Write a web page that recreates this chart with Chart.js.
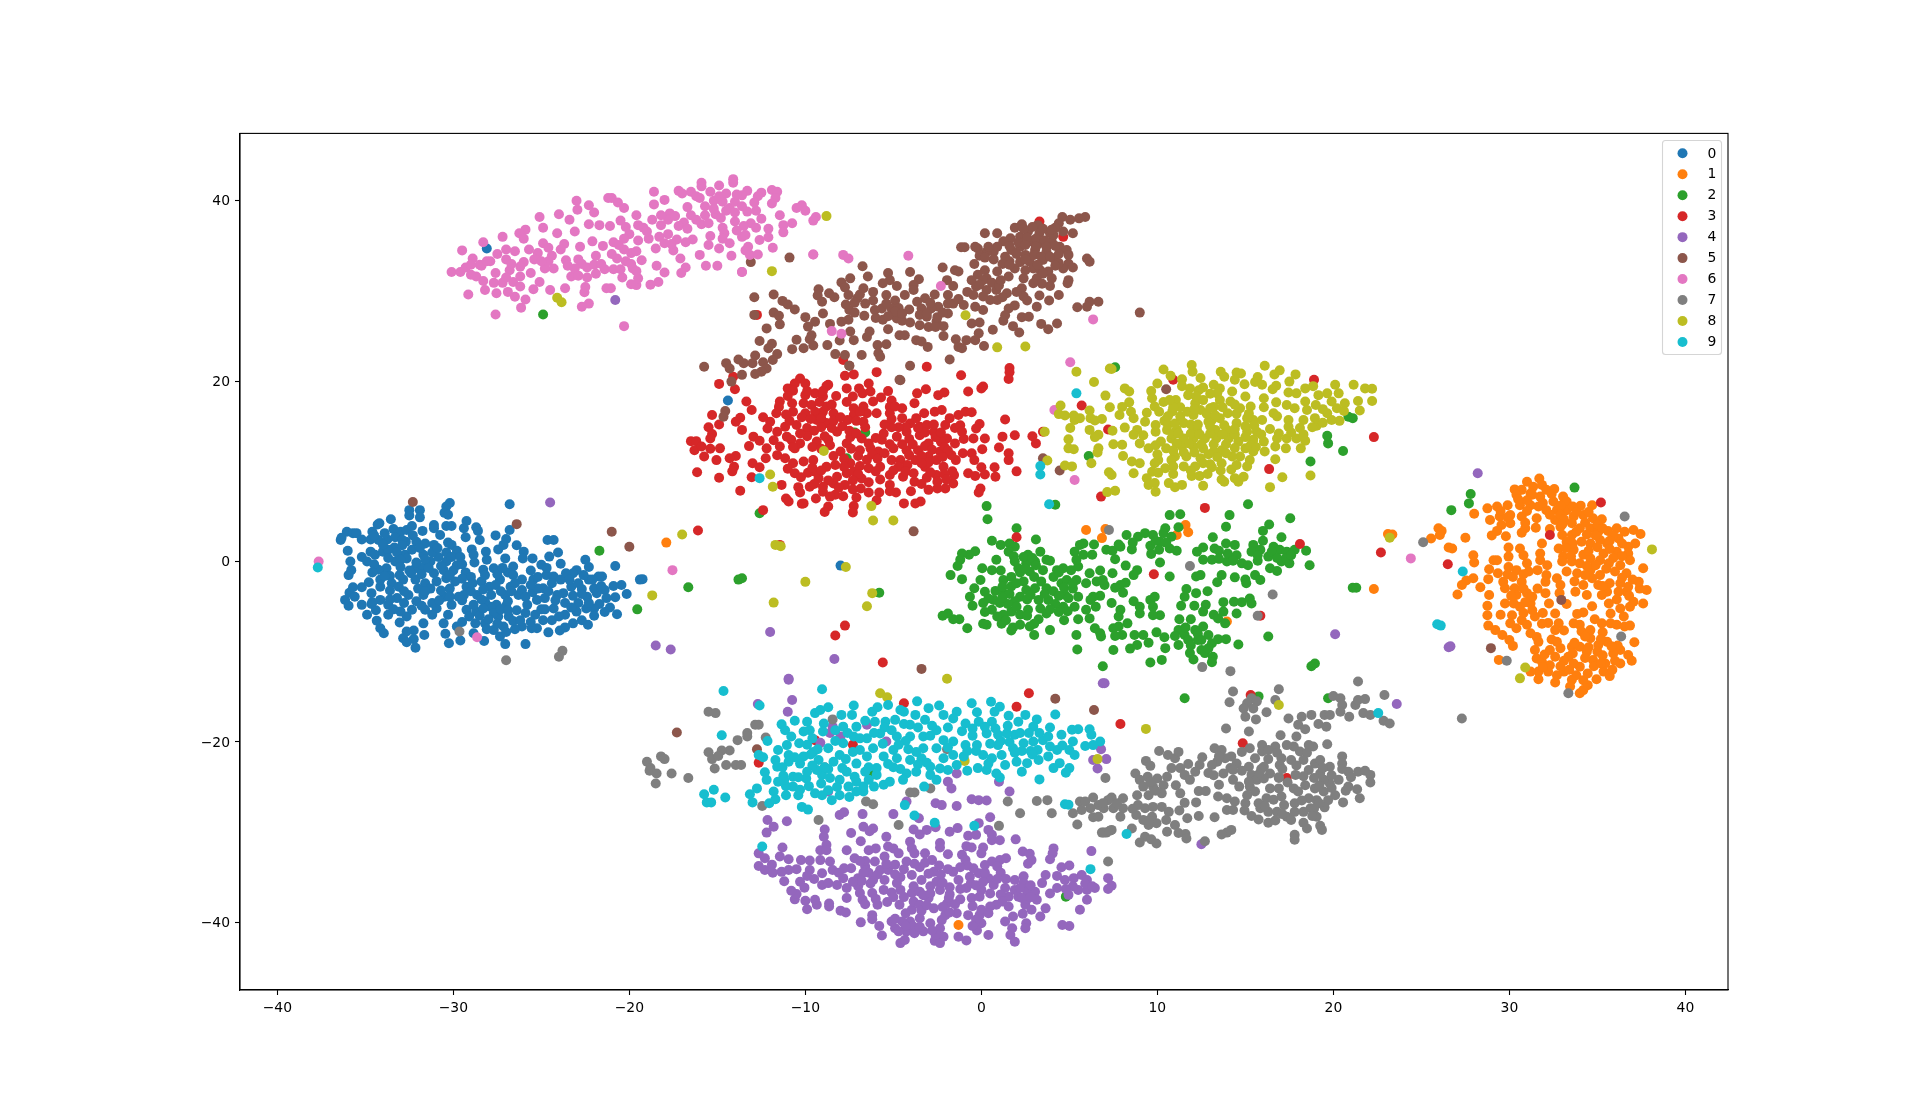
<!DOCTYPE html>
<html>
<head>
<meta charset="utf-8">
<title>t-SNE scatter</title>
<script src="https://cdn.jsdelivr.net/npm/chart.js@4/dist/chart.umd.min.js"></script>
<style>
  html, body { margin: 0; padding: 0; background: #fff; }
  canvas { display: block; }
</style>
</head>
<body>
<canvas id="tsneChart" width="1920" height="1112"></canvas>
<script>
const categories = ['0', '1', '2', '3', '4', '5', '6', '7', '8', '9'];
const colors = ['#1f77b4', '#ff7f0e', '#2ca02c', '#d62728', '#9467bd', '#8c564b', '#e377c2', '#7f7f7f', '#bcbd22', '#17becf'];
const xTicks = [-40, -30, -20, -10, 0, 10, 20, 30, 40];
const yTicks = [-40, -20, 0, 20, 40];

const series0 = [[-28.1,34.7],[-14.4,17.85],[-8,-0.45],[-30.2,6.5],[-30.4,6.1],[-32.5,5.7],[-31.9,5.7],[-31.9,4.9],[-32.5,5.1],[-30.5,5.4],[-30.3,5.2],[-26.8,6.35],[-33.55,4.7],[-34.2,4.25],[-34.3,4.1],[-31.1,4.05],[-31.1,3.7],[-30.4,3.95],[-30.1,3.95],[-29.25,4.5],[-29.4,3.7],[-28.7,3.8],[-28.6,3.4],[-29.3,2.7],[-28.5,2.4],[-27.6,2.9],[-26.8,3.5],[-27,2.5],[-36.05,3.3],[-35.7,3.15],[-35.5,3.15],[-36.4,2.4],[-36.35,2.65],[-35.2,2.45],[-34.6,3.3],[-34.7,2.45],[-34.25,2.4],[-33.75,2.45],[-33.9,3.15],[-33.4,3.6],[-33,3.3],[-32.65,3.5],[-32.35,3.95],[-32.7,2.2],[-31.75,3.4],[-32.1,2.2],[-31.6,2],[-31.1,1.85],[-30.75,2.95],[-30.3,2.1],[-30.1,1.85],[-29.8,1.2],[-36,1.2],[-35.85,0],[-35.2,0.5],[-34.9,0],[-34.7,1.1],[-34.45,0.75],[-34,1.1],[-33.35,1.55],[-33.7,1.3],[-32.75,0.75],[-32.35,1.3],[-31.7,0.75],[-31.3,0],[-30.85,0.5],[-30.4,0],[-29.8,-0.4],[-28.95,1.35],[-28.85,0.75],[-28.8,-0.1],[-28.15,1.1],[-28.1,0.2],[-27.45,1.35],[-27.15,1.85],[-26.4,1.8],[-27.05,0.35],[-26,1.1],[-26.05,0.35],[-25.5,0.35],[-24.65,2.4],[-24.3,2.4],[-24.05,1],[-24.55,0.55],[-22.5,0.2],[-22.3,-0.6],[-20.8,-0.5],[-23.9,-0.25],[-25,-0.35],[-26.6,-0.55],[-27.7,-0.75],[-28.3,-0.9],[-29.3,-1.2],[-31.1,-1.3],[-32.15,-0.75],[-20.15,-3.6],[-20.45,-2.6],[-20.8,-3.95],[-20.7,-5.85],[-21.1,-5.1],[-20.9,-2.7],[-21.4,-3.15],[-21.3,-4.05],[-21.7,-4.7],[-22,-5.2],[-22,-6],[-21.85,-3.5],[-22,-3],[-21.55,-1.65],[-21.75,-1.65],[-19.4,-2],[-19.25,-1.95],[-22.35,-7],[-22.7,-6.5],[-22.45,-5.2],[-23,-5.55],[-22.9,-4.6],[-22.4,-3.9],[-22.7,-3.05],[-22.3,-2],[-22.6,-1.5],[-23,-0.95],[-23.2,-1.3],[-23.3,-2.8],[-23.75,-3.5],[-24.1,-3.7],[-23.65,-4.6],[-23.65,-5.9],[-23.2,-6.85],[-23.65,-7.3],[-23.95,-7.65],[-24.6,-7.85],[-24.4,-6.5],[-24.9,-6.5],[-24.3,-5.2],[-24.8,-4.05],[-25.25,-4.25],[-25.35,-5.9],[-25.25,-7.4],[-25.55,-7.4],[-26.1,-7.2],[-26.5,-7.5],[-25.9,-9.15],[-27.05,-9.15],[-28.25,-8.8],[-27.35,-8.3],[-27.7,-7.6],[-27.15,-7.2],[-26.85,-6.1],[-26.4,-5.4],[-25.8,-4.8],[-26.3,-3.7],[-26.1,-3.15],[-24.9,-2.95],[-24.3,-1.65],[-24.7,-1.5],[-25.45,-2],[-26.1,-2],[-26.75,-2.8],[-27.35,-2],[-27.05,-3.7],[-27.55,-4.8],[-27.9,-5],[-27.45,-6.1],[-28.2,-6.85],[-28.75,-6.85],[-28.7,-5.55],[-29.25,-5.35],[-29.7,-3.9],[-30.5,-3.9],[-30.3,-5.9],[-30.55,-6.85],[-30.45,-8],[-30.25,-9.05],[-29.6,-8.75],[-29.8,-7.2],[-28.85,-7.95],[-30.95,-5.2],[-31.2,-5.9],[-31.6,-5.35],[-31.7,-6.85],[-31.65,-8.15],[-32.15,-9.55],[-32.25,-8.6],[-32.25,-7.65],[-32.85,-8.5],[-32.65,-8.95],[-32.65,-7.75],[-33.05,-6.75],[-32.65,-6.1],[-33,-5.55],[-33.7,-5.9],[-34.15,-7.4],[-33.95,-7.95],[-34.35,-6.55],[-34.9,-5.9],[-34.65,-4.7],[-35.2,-4.8],[-35.95,-4.9],[-36.15,-4.25],[-35.9,-3.45],[-35.6,-3.9],[-35.2,-2.85],[-35.7,-2.85],[-34.65,-3.5],[-34.15,-2.8],[-34.15,-4.25],[-33.7,-4.8],[-33.2,-4.05],[-32.55,-3.7],[-32.35,-5.35],[-31.7,-3.7],[-31.2,-4.6],[-31.6,-2.4],[-32.15,-2],[-32.85,-2],[-33.5,-2.4],[-33.05,-1.5],[-33.8,-0.75],[-34.25,-0.9],[-35.95,-1.5],[-35.8,-0.95],[-30.95,-2.2],[-30.4,-1.85],[-29.9,-2.2],[-29.25,-2.8],[-28.65,-3.7],[-28.4,-2.2],[-27.95,-2.8],[-27.85,-3.7],[-30.55,-0.95],[-31.7,-0.65],[-32.65,0.35],[-33.3,0],[-34.15,-2],[-30.1,-4.8],[-29.4,-3.7],[-28.85,-4.8],[-33.6,-1.6],[-32.4,-1.3],[-31.3,-3],[-30.2,-3],[-29,-1.7],[-26.9,-1.2],[-25.6,-1],[-25,-5.3],[-28.2,-4.4],[-27,-4.9],[-28.5,-6],[-26.6,-6.6]];
const core0 = [[-34.5,2.9],[-33.3,2.7],[-32.9,2.4],[-32.3,2.9],[-34,1.9],[-33.2,1],[-33,0.2],[-32.9,1.8],[-31.9,1.5],[-31.2,1],[-30.9,1.5],[-30.4,1],[-30.1,0.5],[-31.6,0.2],[-32.1,-0.1],[-33.7,0.4],[-34.5,-0.3],[-34.6,-1.2],[-33.9,-1.6],[-33,-0.6],[-32.5,-1],[-31.8,-1.4],[-31.4,-0.7],[-30.7,-0.5],[-30,-1],[-29.5,-0.3],[-29.6,0.5],[-30.2,-1.5],[-29.5,-1.9],[-34.8,-2.3],[-34.6,-4.5],[-33.6,-3.2],[-33.1,-2.8],[-32.8,-3.3],[-32,-3],[-31.6,-3.3],[-30.7,-3.2],[-30.2,-3.9],[-33.6,-4.2],[-32.8,-4.6],[-32.1,-4.4],[-31.8,-4.9],[-30.8,-4.3],[-33.4,-5.3],[-34.4,-5.4],[-29.5,-4.3],[-29,-3.3],[-28.9,-2.4],[-28.3,-3.1],[-28.2,-1.5],[-27.5,-1.4],[-27.2,-0.7],[-26.6,-1.5],[-27.6,-2.6],[-27.3,-3.3],[-26.5,-2.4],[-26.7,-3.3],[-28.4,-4.2],[-28.3,-5.2],[-27.7,-5.7],[-27.3,-5.3],[-26.9,-4.4],[-26.9,-5.4],[-28,-6.4],[-27.5,-6.9],[-27,-7.8],[-28.1,-7.5],[-29.1,-6.1],[-29.5,-6.7],[-26.2,-6.5],[-25.9,-5.7],[-25.6,-6.7],[-25.9,-3.9],[-25.5,-3.4],[-25.2,-3],[-25.6,-2.6],[-25.2,-1.7],[-24.7,-0.7],[-24.4,-2.4],[-24.6,-3.3],[-24.2,-4.3],[-23.9,-2],[-23.6,-1.3],[-23.4,-2],[-24,-6.1],[-24.8,-5.3],[-23.3,-5.1],[-22.9,-2.4],[-22.1,-2],[-21.6,-2.7],[-22.7,-3.6],[-22.3,-4.6],[-23.2,-3.8],[-21.4,-5.6]];

const series1 = [[-17.9,2.1],[5.95,3.5],[7.05,3.6],[6.85,2.6],[11.1,2.95],[11.6,4.05],[11.75,3.25],[13.95,-6.65],[25.97,3.7],[26.15,3.4],[26.05,2.95],[25.55,2.55],[27.5,2.65],[26.55,1.55],[26.75,1.45],[28,5.3],[27.05,-3.65],[29.4,-10.9],[22.3,-3.05],[23.1,3.05],[23.35,3],[-1.3,-40.3],[31.7,9.2],[31,8.85],[30.3,8],[30.7,7.95],[31.35,8.3],[31.85,8.5],[32.1,7.95],[32.55,8.05],[30.4,7.4],[31.2,7.55],[31.75,7.2],[33.05,7.2],[33.25,6.65],[32.5,6.65],[31.65,6.1],[31.2,6.25],[30.6,6.25],[29.9,6.25],[29.3,6.1],[28.75,5.9],[28.9,4.6],[29.45,5],[30.05,5.15],[30.7,5],[31.55,4.8],[31.5,3.75],[30.9,3.7],[30.7,3.2],[30.05,4.25],[29.55,4.05],[29.3,3.4],[29,2.9],[29.8,2.8],[32.1,5.7],[32.7,5.7],[33.25,5.7],[33.65,5],[34.05,6.2],[34.7,6.25],[34.2,5.15],[34.75,4.8],[35.25,4.7],[32.6,4.6],[32.9,3.85],[33,2.95],[33.55,4.25],[34,3.7],[34.6,3.7],[35.05,3.3],[35.6,3.4],[36.1,3.7],[36.55,3.3],[37.05,3.5],[37.45,3.05],[37.15,2],[36.75,1.65],[36.75,0.9],[36.85,0.15],[36.2,2.55],[36.1,1.1],[35.55,2],[35.15,2.4],[35.35,0.9],[34.6,2],[34.1,2.2],[33.55,2.95],[33.25,2.2],[32.8,1.45],[33.65,1.3],[34.2,0.75],[33.05,0.55],[33.55,0],[34,-0.2],[34.6,0.35],[35.15,0.15],[35.65,-0.2],[36.3,-0.4],[37.6,-0.75],[33,0],[33.25,-1.1],[33.85,-1.3],[34.6,-0.95],[35.15,-1.5],[36,-1.1],[36.65,-1.3],[31.85,2],[31.75,0.9],[31.75,0.15],[32.15,-0.4],[31.6,-0.95],[32.1,-1.5],[29.95,1.55],[29.95,0.55],[30.6,1.45],[30.8,0.7],[31,-0.2],[31.1,-1.1],[30.4,-0.95],[29.95,-0.6],[29.1,0.15],[29.3,0.15],[28.85,-0.85],[29.35,-1.3],[29.65,-2.25],[29.75,-2.95],[27.95,0.7],[28,-0.1],[27.95,-1.85],[27.55,-2.1],[27.3,-2.6],[28.8,-1.95],[28.35,-2.85],[28.85,-3.7],[28.75,-4.9],[28.75,-5.95],[28.8,-7.1],[29.2,-7.6],[29.6,-8.15],[30,-8.7],[30.2,-9.35],[29.5,-5.9],[29.75,-4.65],[30.3,-2.95],[30.4,-3.7],[30.25,-4.65],[30.6,-5],[30.15,-5.95],[30.05,-6.85],[30.4,-7.4],[31,-7],[31.2,-7.95],[31.45,-6.1],[31.2,-4.65],[31,-3.5],[30.7,-2.25],[31.3,-3.9],[31.9,-5.7],[32.05,-3.5],[32.25,-4.65],[32.05,-2.25],[32.7,-1.85],[32.9,-2.6],[32.85,-3.5],[33.25,-4.7],[32.6,-5.75],[32.8,-6.85],[32.2,-6.8],[31.85,-6.9],[33.1,-7.65],[32.6,-7.6],[32.4,-8.65],[31.55,-8.35],[31.65,-8.9],[31.45,-9.8],[31.55,-10.75],[31.85,-11.1],[32.9,-9.6],[32.6,-10.55],[32.3,-11.5],[31.65,-12.2],[31.2,-12.2],[32.2,-12.2],[31.65,-13.05],[32.6,-13.4],[33.1,-12.2],[33.35,-10.55],[33.55,-13.1],[33.45,-13.85],[34,-14.6],[34.2,-14.25],[34.45,-13.7],[34.2,-13.15],[34.45,-12.4],[34,-11.65],[33.65,-11.3],[33.55,-9.45],[34,-9.45],[34.4,-10],[34.75,-10.9],[34.95,-13.05],[35.35,-12.2],[35.7,-12.7],[35.85,-12],[35.45,-11.3],[36.3,-11.3],[36.95,-11],[36.75,-10.35],[36.3,-9.8],[35.9,-10.2],[35.55,-8.9],[36.15,-9.3],[37.1,-8.95],[35.05,-9.25],[34.6,-8.5],[34.1,-7.75],[33.65,-6.85],[34,-7],[34.6,-7.6],[34.85,-6.4],[35.3,-7.85],[35.25,-6.85],[35.75,-6.85],[36.1,-7],[36.55,-7.2],[36.85,-7.1],[36.5,-6.1],[35.75,-5.75],[36.3,-5.2],[36.85,-5],[35.65,-4.65],[37.6,-4.65],[37.05,-4.45],[34.7,-4.95],[34.2,-5.65],[33.85,-5.8],[36.65,-3.35],[37.8,-3.15],[37.4,-3],[37.35,-2.25],[36.75,-2.8],[36.2,-3.35],[36.3,-2.4],[35.55,-3.35],[35.25,-3.7],[35.05,-2.6],[34.4,-3.7],[34.2,-2.6],[33.75,-3.35],[34.7,-1.85]];
const core1 = [[31.3,7.4],[31,6.8],[30.5,6.9],[31.9,6.5],[32.4,7.5],[32.9,6.2],[33.6,6.1],[33.8,5.5],[32.9,5.2],[32.3,5.2],[33.1,4.7],[33,4.1],[34.5,5.5],[35,4.1],[34.3,4.3],[33.8,3.3],[34.4,3],[34.9,2.9],[35.3,3.7],[35.9,2.9],[35.7,2.3],[35,1.6],[34.5,1.2],[33.6,2],[33.2,1.5],[35.7,1.4],[36.4,2],[36.4,0.6],[35.9,0.4],[35.5,-0.8],[34.9,-0.4],[34.4,-0.5],[33.5,0.6],[34.3,-1.5],[33.7,-2.2],[36.4,-1.8],[35.7,-2.4],[35.3,-2.7],[37,-2],[36.8,-3.8],[36.1,-4.2],[30.9,4.3],[29.9,4.9],[29.5,5.6],[31,5.6],[32.3,3.6],[29.9,-1.4],[30.2,-1.7],[30.8,-1.4],[30.8,-3],[31.6,-3],[30.9,-4.5],[30.1,-3.8],[30.7,-6.5],[31.3,-5.4],[30.8,-5.7],[33.7,-9],[34.5,-9.5],[35,-10],[35.3,-10.4],[34.3,-10.7],[33.6,-10.2],[35.8,-9.4],[33.1,-11],[32.9,-11.6],[33.4,-12],[34.8,-11.6],[35.2,-11.3],[36,-11],[32,-10.3],[32.3,-9.8],[32.7,-8.9],[31.9,-11.7],[32.7,-12.6],[33.8,-12.6],[35.2,-8.6],[34.3,-8.3]];

const series2 = [[0.3,6.15],[0.35,4.7],[2,3.7],[3.1,2.45],[0.6,2.3],[1.1,1.85],[1.6,2],[1.9,1.65],[1.55,1.1],[-0.35,1.15],[-0.7,0.75],[-1.1,0.9],[-1.2,0.2],[-1.35,-0.5],[-1.75,-1.5],[-1.1,-1.95],[0.05,-0.75],[0.6,-0.95],[0.85,0.2],[1.1,-1],[-0.05,-2.05],[-0.4,-2.95],[-0.65,-3.9],[-0.5,-4.9],[0.1,-4.6],[0.2,-3.35],[0.8,-3.25],[1.25,-2.05],[1.7,-1.7],[2.1,-0.75],[1.85,0.55],[2.65,0.75],[3.35,1.1],[3.7,0.2],[3.05,0],[2.55,-0.2],[3.5,-0.95],[2.75,-1.1],[1.7,-2.75],[2.2,-3.9],[1.25,-3.5],[0.7,-4.25],[1.05,-4.6],[0.6,-5.35],[1.25,-5.9],[1.7,-5.55],[2.2,-5.9],[2.65,-5.35],[2.55,-3.15],[3.05,-2.95],[3.7,-2.95],[3.25,-4.25],[3.8,-4.25],[3.35,-5.2],[3.7,-5.75],[3.25,-6.4],[2.75,-7.2],[3,-8.15],[3.9,-7.6],[1.8,-7.3],[1.7,-7.65],[1.15,-6.9],[0.3,-7],[0.1,-6.9],[-0.8,-7.4],[-1.25,-6.4],[-1.6,-6.4],[-1.9,-5.75],[-2.2,-6],[4.3,-0.95],[4.65,-0.75],[5.1,-0.95],[4.1,-1.7],[4.55,-2.4],[4.85,-2.05],[5.4,-2.05],[4.75,-3.7],[4.95,-4.05],[5.5,-3.9],[4.65,-5],[5.3,-5],[5.95,-2.4],[6.55,-2.2],[7,-2.6],[6.9,-2.05],[6.15,-1.3],[5.5,-0.55],[5.4,0.2],[5.3,1.1],[5.6,1.85],[5.8,2],[6.3,0.75],[5.8,0.75],[6.4,1.9],[6.75,-1],[7.1,1.3],[7.45,1.2],[7.6,0.25],[8.2,-0.45],[7.45,-1.3],[8.85,-0.95],[8.65,-1.5],[8.2,-2.35],[7.9,-2.6],[7.6,-2.9],[8.05,-3.45],[6.75,-3.8],[6.35,-3.9],[6.2,-4.25],[6.5,-5],[5.95,-5.35],[6.15,-6.3],[5.5,-6.4],[4.7,-6.5],[7.4,-4.6],[7.9,-5.35],[7.8,-6.1],[8.3,-6.85],[8.65,-4.4],[9,-5],[9,-5.75],[9.6,-4.25],[9.85,-3.9],[9.75,-5],[10.15,-5.95],[9.75,-5.95],[7.5,-7.4],[7.8,-7.2],[8,-8.15],[7.6,-8.25],[6.75,-7.95],[6.45,-7.4],[6.8,-8.3],[5.45,-9.75],[5.4,-8.15],[7.5,-9.8],[6.9,-11.6],[8.45,-9.65],[8.85,-9.25],[8.7,-8.15],[9.2,-8.15],[9.5,-9],[9.95,-7.85],[10.4,-8.4],[10.45,-9.6],[10.25,-10.9],[9.6,-11.2],[7.9,1.65],[8.25,2.95],[8.55,1.35],[8.9,2.75],[9.3,3.15],[9.75,2.95],[9.6,1.75],[9.65,0.85],[10.15,-0.1],[10.15,2.2],[10.7,5.15],[11.3,5.25],[10.45,3.7],[10.35,3.15],[11.2,3.8],[10.8,2.75],[10.7,1.45],[11.1,1.2],[10.7,-1.65],[11.65,-3.05],[12.2,-1.65],[12.45,-1.5],[12.85,-3.3],[12.2,-3.5],[11.55,-3.9],[11.35,-4.9],[12.1,-4.9],[12.75,-4.8],[12.6,-5.55],[11.25,-6.4],[11.9,-6.4],[12.6,-7.2],[12.15,-7.6],[11.2,-7.6],[11,-8.25],[11.55,-8.15],[12.3,-8.7],[11.75,-8.7],[11.2,-9.25],[11.85,-10.15],[12.05,-10.85],[12.5,-9.8],[12.9,-8.15],[13.1,-9.05],[13.45,-8.6],[13.9,-8.6],[14.6,-9.2],[12.7,-10.15],[13.15,-10.55],[13.1,-11.15],[16.3,-8.3],[13.75,-4.5],[13.75,-5.55],[13.2,-5.9],[13.45,-6.3],[13.85,-6.85],[14.5,-5.75],[14.35,-4.45],[14.8,-4.5],[15.25,-4.1],[15.35,-4.65],[14.4,-1.75],[15,-2],[15.05,-2.4],[15.55,-1.5],[15.85,-2.05],[13.65,-1.5],[13.4,-2.3],[12.6,0.2],[13.1,0.2],[12.25,1.1],[12.6,1.55],[13.25,1.45],[13.15,2.7],[13.9,3.85],[14.1,5.15],[13.9,2],[14.4,1.85],[13.95,0],[14,0.9],[14.8,-0.2],[15.15,-0.4],[15.7,0.1],[15.45,1.85],[15.35,1.1],[15.85,1.3],[16,2.3],[16,3.4],[16.35,4.1],[17.55,4.8],[17.05,2.7],[16.3,0.55],[16.6,1.65],[16.95,1.3],[17.35,1.1],[17.05,0],[17.5,-0.2],[16.4,-0.75],[16.8,-1.05],[17.8,1.3],[18.45,1.2],[18.65,-0.4],[15.15,6.35],[4.2,6.3],[18.95,-11.3],[18.75,-11.6],[33.7,8.2],[27.8,7.5],[27.7,6.45],[26.7,5.7],[7.6,21.55],[6.1,11.7],[20.85,16.05],[21.1,15.9],[19.65,13.95],[19.7,13.1],[20.55,12.25],[18.7,11.1],[-12.6,5.35],[-7.2,14.3],[-6.6,14.3],[-7.65,11.45],[-21.7,1.2],[-19.55,-5.3],[-16.65,-2.85],[-13.8,-2],[-13.6,-1.85],[-5.8,-3.45],[11.55,-15.15],[15.75,-14.95],[19.7,-15.15],[-6.2,-23.6],[4.8,-37.15],[21.1,-2.9],[21.3,-2.9],[-24.9,27.4]];
const core2 = [[1.9,0],[2.4,0.5],[2.9,0.4],[2.2,-1.2],[2.4,-2.2],[3,-1.7],[3.4,-2.2],[2,-2.4],[1.2,-2.8],[1.6,-3.6],[1.9,-4.4],[2.6,-4.2],[2.8,-3.7],[1.5,-4.7],[2.6,-6],[3,-6.9],[0.2,-5.6],[0.9,-6.1],[3.6,-3.6],[4.1,-3.3],[4.4,-3.8],[4.2,-4.7],[3.9,-5.3],[4.4,-5.6],[4.7,-2.9],[5.2,-3],[5.2,-2.4],[4.4,-1.2],[2,-5],[1.2,-4],[4.9,-5.5],[2.5,-0.8],[3.1,-0.4],[3.9,0.1],[0.4,-4.1],[1.4,-6.5],[2.2,-7],[12.3,-8],[12.5,-8.7],[11.9,-9.3],[11.6,-7.3],[12.9,-9.6],[16.5,1.1],[15.7,0.7],[14.5,0.7],[14.3,0.1],[13.5,1.2],[13.5,0.3],[16.8,0.4],[17.3,0.4],[17.6,0.7],[9.9,2.3],[10.5,2.1],[10.1,1.3],[7.8,1.9],[8.6,2.1]];

const series3 = [[-10.3,20.3],[-10.6,19.75],[-10,19.75],[-11,19.2],[-10.7,18.95],[-11,18.35],[-11.45,17.75],[-11.5,17.15],[-11.65,16.45],[-10.75,17.55],[-10.7,16.6],[-10,18.45],[-10.1,17.55],[-9.45,18.65],[-9,18.3],[-9.65,17.35],[-10,16.45],[-8.8,19.45],[-8.7,19.6],[-8.25,18.35],[-7.75,20.6],[-7.25,20.75],[-7.65,19.2],[-7.65,17.7],[-5.95,21],[-6.95,19.2],[-6.4,19.75],[-6.75,18.65],[-6.3,18.85],[-5.3,18.9],[-5.7,18.2],[-6.15,17.75],[-5.1,17.85],[-5.2,17.15],[-3.8,17.55],[-3.65,18.65],[-3.15,19.1],[-2.45,18.45],[-2.1,18.75],[-3.1,21.6],[-1.15,20.65],[-0.75,18.85],[0,19.2],[0.1,19.4],[1.6,21.45],[1.6,21],[1.55,20.25],[-2.65,16.6],[-2.25,16.8],[-3.25,16.45],[-4.5,17],[-5.2,16.45],[-5.95,16.45],[-6.5,16.45],[-7.25,17],[-7.25,16.25],[-8.4,16.45],[-9,16.6],[-9.45,16.6],[-8.8,15.35],[-9.35,15.7],[-9.9,14.8],[-10.5,15.15],[-11.15,14.95],[-12,15.5],[-12.4,16],[-12.15,14.75],[-13.7,15.95],[-13.95,15.5],[-15.3,16.25],[-14.9,15.2],[-15.5,14.9],[-15.3,14.15],[-15.4,13.65],[-16.5,13.35],[-16.2,13.35],[-16.3,12.35],[-15.9,12.75],[-15.4,12.5],[-14.85,12.55],[-15.75,11.65],[-15.05,11.25],[-13.95,11.7],[-14.3,11.45],[-14.05,10.5],[-14.15,10],[-16.15,9.9],[-14.9,9.3],[-13.7,7.85],[-13.05,9.35],[-13,10.9],[-12.6,10.45],[-13.2,12.8],[-13.6,14.6],[-13.35,17.75],[-13.05,16.8],[-14.9,19.7],[-14,19.1],[-16.1,3.45],[-12.4,5.7],[-12.95,13.85],[-12.6,13.4],[-11.6,14.4],[-11.8,13.45],[-12.2,12.55],[-12.25,11.45],[-11.6,11.8],[-11.45,12.75],[-11.05,13.85],[-10.6,12.55],[-10.3,13.1],[-11.15,11.45],[-10.7,10.9],[-10.6,9.8],[-10.25,9.35],[-11.35,8.5],[-10.4,8.25],[-10.3,7.65],[-11.1,7],[-10.95,6.65],[-10.2,6.4],[-10.1,6.45],[-9.85,9.85],[-9.45,9.95],[-9.75,8.3],[-9.25,9.25],[-9,7.75],[-9.4,7],[-8.7,6.1],[-8.9,5.5],[-8.3,7.4],[-7.85,7.25],[-7.75,8.5],[-8.4,8.65],[-8.3,10.7],[-8.8,10.5],[-9.55,11.25],[-8.2,9.4],[-7.65,9.8],[-7.25,10],[-6.8,9.2],[-6.4,10.35],[-5.75,10.5],[-5.75,9.1],[-5.2,9.6],[-5.2,8.5],[-6.85,8.1],[-7.1,7.1],[-7.25,6.15],[-7.3,5.45],[-6.4,7.65],[-5.95,6.8],[-5.8,7.65],[-4.85,7.65],[-4.4,6.45],[-3.75,6.45],[-3.45,6.65],[-4,7.8],[-3,7.95],[-2.5,8.1],[-2.05,8.1],[-1.6,8.65],[-1.55,9.6],[-1.65,10],[-2.15,10.5],[-2.55,9.6],[-2.5,8.85],[-3.8,8.85],[-4.45,9.4],[-3.85,9.8],[-3.2,10.5],[-3.75,11.25],[-4.6,11.25],[-5.1,11.25],[-5.85,12.2],[-6.3,12.55],[-6.9,12.35],[-7.45,10.9],[-7.65,13.1],[-8,12.2],[-7.45,13.8],[-6.8,13.65],[-8.2,14.4],[-8.7,13.5],[-9.35,13.3],[-5.65,13.5],[-5.55,14.2],[-5,12.55],[-4.8,13.85],[-4.25,14.4],[-3.5,14],[-3.5,14.95],[-4.05,15.3],[-3.1,15.15],[-2.7,14.4],[-2.05,15.15],[-1.8,15.9],[-1.3,16.25],[-0.9,16.6],[-0.55,16.55],[-0.1,15.25],[-0.3,14.75],[-1.95,13.65],[-1.5,13.1],[-1,13.6],[-0.45,13.65],[0.2,13.65],[1.2,13.85],[1.9,14],[1.35,15.75],[2.9,13.9],[3.1,13.1],[3.5,14.4],[1,12.65],[1.55,12],[1.55,11.25],[2,10],[0.05,12.45],[-0.55,12],[-0.4,11.25],[-1.05,12],[-1.45,11.25],[-1.7,11.8],[-2.35,12.2],[-3,13.1],[-3,11.65],[-3.6,12.35],[-4.25,12.35],[-2.55,11.25],[0,10.45],[0.75,10.45],[0.2,9.65],[0.8,9.4],[-0.75,9.8],[-0.35,9.5],[-0.05,8.1],[-0.15,7.65],[-11.45,1.85],[-8.3,-8.2],[-7.75,-7.1],[-5.6,-11.2],[2.7,-14.6],[2,-16.1],[7.9,-18],[14.85,-20.15],[22.7,1],[22.3,13.8],[18.9,20.15],[16.35,10.25],[12.7,5.95],[5.7,17.3],[10.9,20.15],[7.2,14.65],[6.8,7.2],[2,2.7],[18.1,1.95],[9.8,-1.4],[15.85,-6],[35.2,6.55],[32.3,2.95],[26.5,-0.3],[-12.65,-22.3],[-4.4,-15.7],[-7.3,-20.3],[-9.45,-19.8],[15.3,-14.8],[17.35,-24],[3.3,37.7],[4.65,36],[-12.75,27.35],[-7.85,22.35],[-14.1,20.5]];
const core3 = [[-10.2,16],[-9.7,15.8],[-9.1,15.9],[-9.5,14.5],[-9.1,14.9],[-8.5,14.8],[-8.4,15.6],[-7.6,15.7],[-7.1,15.6],[-6.7,15.5],[-6.6,14.9],[-7.9,15],[-7.5,14.5],[-9.9,13.9],[-10.3,14.2],[-10.8,13.5],[-9.6,12.7],[-9.1,12.5],[-8.6,12.9],[-8.4,11.7],[-7.8,11.4],[-7.4,12.5],[-7,11.7],[-6.5,11.3],[-6.2,11.9],[-5.9,11.4],[-5.5,12],[-6.4,13.1],[-6,13.7],[-5.2,13],[-4.5,13],[-4.1,13.6],[-3.9,13],[-4.1,11.8],[-3.4,11.7],[-3.2,12.8],[-2.8,12.4],[-2.3,13.3],[-2.6,13.8],[-2.1,12.7],[-1.9,12.3],[-2.2,11.6],[-3,11],[-3.4,10.9],[-4.2,10.7],[-4.7,10.5],[-4.3,10],[-5,10.1],[-6,10],[-6.9,10.6],[-7,9.7],[-7.8,10.5],[-7.3,9],[-6.4,8.8],[-8.7,9],[-9.5,8.6],[-9,8.3],[-9.1,10.1],[-8.1,8.2],[-7.3,8],[-8.6,7.2],[-3.1,9.3],[-3.4,8.6],[-2.9,9.9],[-2.1,9.7],[-2,9.1],[-4.3,14.9],[-4.7,14.9],[-5.1,14.9],[-5.5,15.2],[-5.1,15.8],[-4.5,15.9],[-3.7,15.9],[-3.2,14.3],[-2.7,15.2],[-2.3,14.3],[-1.5,14.8],[-1.2,15.1],[-4.9,17.2],[-6.7,17.2],[-6.9,16.6],[-8.8,17.2],[-8.5,17.4],[-9,18.9],[-9.2,17.7],[-9.9,18.9],[-7.3,18.3],[-8,16],[-10.9,15.6],[-11.1,16.3],[-10.7,12.7],[-11,10.3],[-10.1,11.1],[-9.6,10.4],[-5.2,7.8],[-1.1,14.4],[-3.6,14.8],[-7.1,14.2],[-8.9,13.9]];

const series4 = [[-12.15,-28.65],[-11.8,-29.4],[-12.2,-30.05],[-11.05,-28.8],[-8.9,-29.7],[-8.95,-30.5],[-8.8,-31.4],[-9.15,-32],[-8.8,-32],[-8.05,-28.1],[-7.8,-27.8],[-6.75,-28],[-5,-28],[-7.4,-30.1],[-6.85,-31],[-6.7,-29.4],[-6.35,-29.9],[-6.15,-29.6],[-5.4,-30.5],[-7.65,-32],[-6.4,-32],[-6,-31.8],[-5.3,-31.6],[-5,-31.8],[-4.7,-32.35],[-4.05,-31.05],[-3.95,-31.8],[-3.8,-32.35],[-3.2,-32.35],[-3.85,-29.7],[-3.5,-30.25],[-3.1,-29.75],[-2.6,-29.45],[-2.35,-31.2],[-2.35,-31.7],[-1.9,-32.45],[-1.8,-29.95],[-1.35,-29.55],[-0.75,-30.4],[-0.3,-30.3],[-0.85,-31.55],[-0.55,-31.7],[0.1,-31.7],[0,-32.35],[-1.1,-32.5],[-0.9,-33.1],[0.4,-29.75],[0.6,-30.3],[0.6,-30.9],[1.05,-30.9],[1.95,-30.8],[2.35,-32.15],[2.75,-32.4],[2.85,-33.1],[2.65,-33.5],[4.1,-31.8],[4.05,-32.35],[3.9,-33],[6.25,-32.1],[4.55,-33.9],[5,-33.7],[4.3,-34.85],[4.75,-35.3],[5.25,-35.1],[5.7,-34.75],[6,-35.3],[6.45,-36.2],[6,-36.4],[5.5,-36.4],[7.2,-35.1],[7.4,-35.95],[7.2,-36.3],[4.95,-36.95],[3.9,-36.8],[4.3,-36.2],[6,-37.5],[5.6,-38.6],[4.6,-40.3],[5,-40.4],[3.65,-34.75],[3.45,-35.65],[3.05,-36.6],[2.6,-36.6],[3.15,-37.5],[3.65,-38.45],[3.35,-39.35],[2.85,-38.6],[2.5,-38.05],[2.35,-39.05],[2.55,-40.1],[2.5,-40.65],[2.4,-34.9],[2.4,-35.65],[1.9,-35.3],[1.35,-36.2],[1.55,-37.15],[2.1,-37.15],[1.55,-38.25],[1.8,-39.35],[1.35,-39.9],[1.75,-40.65],[1.65,-41.4],[1.9,-42.15],[0.85,-38.05],[0.5,-38.25],[-0.1,-39.2],[0,-40.1],[-0.25,-40.9],[0.4,-41.4],[-1.3,-41.6],[-0.85,-42],[-2.25,-39.75],[-2.05,-39.2],[-1.4,-39],[-0.75,-39.2],[-1.95,-37.9],[-1.2,-37.45],[-1.85,-37.3],[-3,-37.3],[-2.7,-38.45],[-2.9,-40.1],[-2.35,-40.65],[-2.15,-41.6],[-2.65,-42.05],[-2.35,-42.3],[-3.3,-41],[-3.5,-39.55],[-4.05,-39.9],[-4.25,-41],[-4.6,-42.3],[-4.35,-41.95],[-4.9,-40.65],[-5.1,-39.9],[-5.65,-41.45],[-5.8,-40.4],[-6.2,-39.2],[-6.2,-39.65],[-6.85,-40],[-5.9,-38.05],[-5.35,-37.75],[-4.65,-38.05],[-3.95,-38.6],[-3.85,-37.7],[-3.5,-38.05],[-3.95,-36.75],[-4.6,-36.4],[-4.8,-35.65],[-5.55,-36.4],[-6.2,-36.75],[-6.75,-37.5],[-7.65,-37.3],[-8,-38.7],[-7.7,-38.9],[-8.65,-37.9],[-8.65,-38.25],[-9.35,-38.05],[-9.9,-38.55],[-9.45,-37.5],[-10.6,-37.45],[-10.5,-36.85],[-10.05,-36.15],[-11.2,-35.45],[-9.05,-34.55],[-9.05,-35.85],[-8.7,-35.65],[-8.2,-35.85],[-7.85,-35.1],[-7.65,-36.2],[-7,-36],[-6.9,-36.75],[-7,-35.1],[-7.4,-34],[-7.2,-32.9],[-6.6,-33.8],[-6.05,-33.25],[-5.75,-34.2],[-5.3,-34.2],[-6.15,-35.3],[-5.5,-35.3],[-4.9,-33.6],[-4.25,-33.25],[-3.5,-33.9],[-2.8,-33.1],[-2.7,-34.4],[-3.95,-34.75],[-3.4,-35.3],[-2.55,-35.5],[-3.85,-36],[-2.9,-36],[-1.8,-36.1],[-2.35,-36.4],[-1.6,-34.4],[-1.3,-35.3],[-0.65,-34.95],[-0.15,-34.55],[0.4,-35.1],[0.7,-35.85],[0,-36.4],[-0.85,-36.2],[-0.55,-37.3],[-0.1,-37.15],[0.5,-36.8],[0.6,-33.25],[1.05,-33.1],[1.4,-32.9],[0.2,-33.65],[-0.45,-34],[-12.65,-32.35],[-12.3,-32.9],[-11.45,-32.7],[-11.3,-31.7],[-10.95,-33],[-10.25,-33.1],[-9.75,-33.15],[-9.15,-33.1],[-8.6,-33.25],[-8.45,-34.2],[-9.75,-34.2],[-9.9,-34.85],[-10.5,-34.1],[-10.95,-34.2],[-11.35,-34.4],[-12.65,-33.75],[-12.3,-34.2],[-11.85,-34.5],[-11.9,-33.6],[-2.6,-26.8],[-2.25,-27],[-1.4,-27.1],[-0.55,-26.35],[-0.15,-26.45],[0.3,-26.5],[0.5,-28.35],[1.6,-25.5],[-3.55,-28.45],[-4.25,-26.6],[-0.15,-29],[7,-13.5],[-10.95,-13.1],[-10.75,-15.35],[-11,-16.65],[-12.7,-15.8],[-8.45,-18.3],[-8.6,-19],[-8,-19.4],[-9.15,-20.1],[-6.5,-18.1],[-5.4,-19.95],[-1.4,-23.5],[-1.9,-24.4],[-1.7,-25.15],[1,-24.4],[6.8,-20.8],[6.6,-22.95],[7.1,-21.9],[6.35,-22],[-8.7,-25.5],[-24.5,6.55],[-18.5,-9.3],[-17.65,-9.75],[-20.8,29],[28.2,9.8],[26.55,-9.5],[26.65,-9.4],[20.1,-8.05],[23.6,-15.8],[12.5,-31.35],[-12,-7.8],[-10.95,-13],[-8.35,-10.8],[6.9,-13.5]];
const core4 = [[-6.6,-33.2],[-6.4,-34.5],[-5.9,-34.7],[-5.4,-33.5],[-5.5,-32.7],[-4.6,-35],[-4.4,-34.1],[-3.8,-33.5],[-3.2,-33.4],[-3,-34.6],[-2.3,-34.7],[-2.2,-35.6],[-2.4,-33.7],[-3.5,-36.6],[-3.3,-37],[-2.9,-36.8],[-3.4,-38.7],[-4.3,-39],[-4.5,-39.9],[-3.9,-40.4],[-4.3,-40.4],[-3.8,-41.2],[-3.5,-40.5],[-4.7,-41],[-4.9,-39.6],[-2.6,-41.4],[-2.8,-40.9],[-1.5,-38],[-2.2,-38.3],[-1.8,-38.9],[-1.8,-36.9],[-1.2,-36.3],[-0.6,-35.7],[-0.3,-35.9],[0.1,-35.5],[1.1,-34.5],[1.4,-35.2],[0.9,-35.2],[1.9,-36.4],[2.2,-36.2],[2.8,-35.9],[2.6,-37.4],[2.3,-37.3],[1.1,-36.9],[1.2,-37.7],[2.8,-37.2],[0,-38.6],[-0.5,-38.2],[0.4,-39],[-0.3,-39.7],[-0.5,-40.4],[-6.7,-34.5],[-6.3,-35.7],[-6.8,-35.4],[-7.3,-35.5],[-6.6,-38],[-6,-37.4],[-5.1,-36.7],[-5,-37.2],[-4.4,-37.2],[-4.9,-34.7],[-7.8,-34],[-8.1,-34.5],[-6.9,-33.2],[-10.3,-35.5],[-9.5,-35.2],[-10.8,-36.5],[-10,-37.6],[-3.1,-38.1],[0.2,-34.5],[0.9,-33.8],[-0.8,-33.7],[-1.2,-33.9],[-1.9,-34.1],[5.2,-36],[4.8,-36.3],[5.9,-35.7],[6.3,-36]];

const series5 = [[5.9,38.2],[5.55,38.05],[4.6,38.2],[5.05,37.9],[4.4,37.5],[4.2,37],[5.2,36.4],[4.65,36.6],[3.9,36.4],[3.2,37.3],[2.3,37.4],[1.9,37],[2.65,36.6],[3.3,36.4],[0.9,36.4],[0.2,36.4],[2.2,36],[1.65,35.85],[1.25,35.5],[2.8,35.5],[3.3,35.3],[4,35.5],[4.45,34.9],[4.85,34.55],[4.95,34],[2.2,34.9],[1.7,34.55],[3.7,34.35],[3.05,34.55],[2.5,34],[1.35,33.8],[0.7,34.35],[0.3,34.35],[-0.2,34.7],[-0.35,34.9],[-0.95,34.85],[-1.15,34.85],[0.7,33.5],[-0.4,33],[4.1,33.6],[3.5,33.45],[2.75,33.25],[6,33.6],[6.15,33.25],[4.95,33.05],[5.2,32.6],[4.65,32.5],[2.95,32.5],[1.9,32.5],[2.5,32.3],[0.9,32.15],[0.2,32.3],[3.8,32.15],[3.35,32.3],[1.55,31.6],[2.4,31.4],[3.15,31.4],[4,31.4],[4.95,31.2],[4.9,30.85],[3.45,30.8],[3.9,30.55],[2.95,30.85],[0.3,31.4],[-0.2,31.8],[-0.55,31.2],[0.1,31.2],[-1.5,32.3],[-1.3,32.15],[-2.2,32.6],[-4.05,32.1],[-5.3,32],[-6.75,32.75],[-6.45,31.6],[-7.45,31.4],[-7.95,30.95],[-3.55,31.3],[-1.95,31.2],[-1.6,30.55],[-5.2,31.2],[-5.6,30.85],[-4.8,30.55],[-3.85,30.65],[-6.7,30.3],[-6.15,29.9],[-7.75,30.4],[-9.25,30.2],[-8.65,29.75],[-8.35,29.3],[-9.3,29.5],[-7.55,29.55],[-7.05,29.2],[-6.6,28.6],[-6.15,28.95],[-5.4,29.55],[-4.35,29.55],[-3.85,30.1],[-4.9,28.95],[-3.2,29.2],[-3.65,28.8],[-2.65,29.6],[-1.9,29.55],[-0.3,30.5],[-0.45,29.55],[0.3,30.1],[0.85,30.1],[1.45,29.75],[2.3,30.3],[2.4,29.4],[3.3,29.5],[3.85,28.95],[4.4,29.55],[3.15,28.25],[2.6,28.95],[1.9,28.4],[1.55,28.05],[1.35,27.3],[1.25,26.7],[1.8,26.1],[2.3,27.1],[2.7,27.15],[3.4,26.35],[3.8,25.75],[4.3,26.4],[2.15,25.4],[0.65,25.7],[-0.15,25.3],[-0.55,26.4],[-0.1,26.5],[0.1,27.9],[0.5,29],[-0.35,28.25],[-1,28.45],[-1.6,28.6],[-2.45,28.25],[-2.85,28.05],[-3.4,28.05],[-4.1,27.95],[-5.1,28.05],[-5.65,28.05],[-6.05,27.9],[-6.65,27.25],[-7.5,27.9],[-7.55,26.8],[-7.95,26.6],[-8.6,26.35],[-9,27.5],[-9.05,28.8],[-9.45,26.6],[-10,27.1],[-9.85,26.05],[-9.65,25.1],[-9.75,24.65],[-9.55,23.95],[-10.1,23.65],[-10.5,24.6],[-10.75,23.55],[-8.75,24],[-8.05,24.5],[-8.3,23],[-7.75,22.9],[-7.5,21.7],[-6.8,22.9],[-7.25,24.55],[-7.45,25.5],[-6.5,24.9],[-6.35,25.5],[-5.9,24],[-5.4,24.1],[-5.85,23.1],[-5.75,22.7],[-4.65,25.1],[-4.35,25.1],[-5.3,25.75],[-5.6,26.8],[-6,27],[-4.8,26.95],[-4.5,26.7],[-4.05,26.5],[-3.5,26.2],[-3,26],[-2.55,26.6],[-2.15,26.1],[-1.9,27.5],[-3.1,27.15],[-3.5,27.35],[-2.15,25],[-3.7,24.55],[-3.4,24.4],[-3.05,23.8],[-1.45,24.65],[-1.3,23.8],[-1.1,23.65],[-0.85,24.55],[-0.35,24.55],[0.15,23.9],[-1.8,22.4],[-4.05,21.7],[-4.6,20.1],[-10.9,33.7],[-13.1,33.2],[-12.9,29.3],[-11.8,29.6],[-12.9,27.35],[-11.8,27.6],[-11.5,27.25],[-11.45,26.3],[-11.3,28.9],[-11,28.5],[-10.6,27.95],[-12.2,25.85],[-12.6,24.45],[-11.9,24.15],[-12.1,23.65],[-11.6,23],[-11.85,22.35],[-12.4,22.1],[-12.2,21.4],[-12.5,21.05],[-12.85,20.8],[-12.85,22.85],[-13,22],[-13.5,22],[-13.8,22.4],[-14.5,22],[-14.3,21.4],[-13.6,20.7],[-14.2,19.95],[-15.75,21.6],[9,27.6],[6.65,28.8],[6.15,28.8],[6,28.25],[5.45,28.2],[-32.3,6.6],[-26.4,4.15],[-21,3.3],[-20,1.65],[-17.3,-18.95],[-3.85,3.35],[-3.4,-11.9],[10.5,19.1],[4.45,10.1],[3.5,11.45],[32.95,-4.25],[28.95,-9.6],[6.4,-16.45],[4.2,-15.2],[-12.75,-20.8],[-14.55,16.7],[-14.65,16.05],[-4.65,20.15],[-7.5,21.7]];
const core5 = [[2.6,35.9],[3.1,35.8],[3.6,35.6],[2.1,35.4],[1.6,35],[2.5,35.1],[3.1,34.9],[3.7,34.9],[4.2,35],[4.1,36.2],[3.5,36.9],[2.9,37.1],[2.4,36.9],[4,36.8],[2,34.1],[3,34],[3.4,33.8],[4.4,34.1],[3.9,33.8],[2.2,33.2],[1.6,33.3],[1.2,33],[1.6,32.9],[-0.1,33.9],[0.2,33.7],[0.9,34.9],[0.4,34.9],[4.4,33.1],[3.2,32.9],[2.5,33.5],[4.2,32.8],[3.5,31.9],[0.6,30.9],[-0.1,30.7],[1,30.6],[1.1,31.2],[0.1,29.4],[-0.8,29.9],[-1.3,29.1],[0.9,29],[1.2,29.3],[2,29.9],[-1.9,28.6],[-2.9,28.7],[-3.1,27.5],[-2.5,27.1],[-2.2,27.6],[-2.6,26],[-5.4,28.6],[-4.7,28.1],[-4.9,27.7],[-6.9,29.6],[-7.2,28.7],[-7.7,28.5],[-7.2,27.6],[-5.3,27.2],[-4.5,27.5]];

const series6 = [[-30.1,32.1],[-29.6,32.1],[-29.3,32.6],[-28.9,33.6],[-28.3,35.4],[-27.2,36],[-25.9,36.8],[-26.25,36.4],[-26,35.8],[-25.1,38.2],[-24,38.5],[-23.4,37.9],[-23,40],[-22.95,39],[-22.3,39.5],[-22,38.7],[-21.2,40.3],[-21,40.3],[-20.65,39.8],[-20.3,39.2],[-18.6,41],[-18.6,39.6],[-18,40.1],[-17.2,41.1],[-17,40.8],[-15.9,42],[-15.9,41.6],[-14.9,41.7],[-14.1,42.4],[-14.1,42],[-15.4,41],[-14.5,40.8],[-13.3,41.1],[-13.6,40.6],[-12.5,40.9],[-12.7,40.5],[-11.9,41.2],[-11.6,41],[-11.7,40.3],[-11.9,39.7],[-10.2,39.5],[-10.5,39.2],[-10,38.9],[-9.4,38.2],[-9.55,37.8],[-10.75,37.5],[-11.25,37.3],[-11.25,36.5],[-11.45,38.4],[-12.1,36.9],[-12.1,35.95],[-12.6,35.65],[-11.85,34.8],[-13.25,34.9],[-13.4,34.5],[-13.15,34],[-12.7,34.05],[-9.55,34.05],[-7.85,34],[-7.55,33.6],[-13.6,32.1],[-15,32.8],[-15.65,32.8],[-16.8,32.6],[-17.05,32],[-18,32.05],[-18.45,32.8],[-18.35,31],[-18.8,30.7],[-19.6,30.65],[-19.9,30.75],[-21.05,30.3],[-21.3,30.3],[-22.55,29.85],[-22.5,30.45],[-22.3,28.6],[-22.7,28.25],[-20.3,26.1],[-23.65,30.3],[-24.5,30.1],[-25.45,30.2],[-25.9,29.05],[-26.15,28.15],[-27.6,27.4],[-29.15,29.6],[-28.2,30.1],[-27.55,29.75],[-26.5,29.35],[-28.4,32.8],[-28.7,31.6],[-28.3,31.1],[-27.9,33.3],[-27.6,32],[-27.2,30.9],[-27,33.5],[-26.8,32.3],[-26.6,31],[-26.5,34.4],[-26,33.2],[-25.6,32],[-25.2,34.2],[-25.1,31],[-24.9,35.3],[-24.4,33.9],[-24.3,32.5],[-24.1,36.4],[-23.7,35.2],[-23.6,33.4],[-23.3,31.6],[-23.1,36.6],[-22.8,34.9],[-22.7,33],[-22.4,31.5],[-22.1,35.5],[-22.3,37.4],[-21.9,33.9],[-21.4,32.4],[-21.1,37.2],[-20.9,35.4],[-20.7,33.6],[-20.4,31.5],[-20.5,37.8],[-20,36.3],[-19.9,34.2],[-19.8,32.5],[-19.5,31.4],[-19.6,38.4],[-19.2,37],[-19.5,35.6],[-18.9,35.8],[-18.5,34.7],[-18.2,37.3],[-17.7,38.6],[-17.8,36.3],[-17.5,34.5],[-17.1,33.6],[-16.9,37.6],[-16.7,39.3],[-16.4,35.7],[-16,34],[-15.9,37.4],[-15.7,39.4],[-15.4,36.1],[-15.1,38.5],[-14.9,34.7],[-14.7,37],[-14.3,35.3],[-14.3,39.2],[-14,37.7],[-13.6,36],[-13.3,38.8],[-13.1,37.5],[-12.8,38.9],[-12.5,38],[-16.5,41],[-16,40.3],[-15.2,40],[-14.7,39.9],[-17.8,37.9],[-18.3,36],[-19.3,33.4],[-21.5,35],[-21,34.1],[-24.9,37],[-29.5,34.5],[-29,31.8],[-28.5,32.9],[-37.65,0],[-28.65,-8.4],[-17.55,-0.95],[-9.55,34.05],[-4.15,33.9],[-2.3,30.55],[-8.5,25.55],[-7.95,25.25],[6.35,26.85],[5.05,22.1],[4.15,16.8],[5.3,9.05],[24.4,0.35],[-13.6,32.1]];
const core6 = [[-28.1,33.3],[-27.5,34.1],[-27,34.6],[-26.7,33],[-26.2,32.7],[-26.2,31.6],[-25.7,34.6],[-25.4,33.5],[-24.8,32.5],[-24.6,33.3],[-24.6,34.8],[-23.9,34.6],[-23.1,32.5],[-22.9,33.5],[-22.4,32.6],[-22,32.9],[-21.9,31.9],[-21.6,33],[-20.9,32.4],[-20.5,32.4],[-20.2,33.3],[-19.9,33],[-19.6,32.2],[-20.3,34.6],[-20.6,35.1],[-20.3,35.8],[-20.2,37.1],[-19.5,37.3],[-18.7,37.9],[-18.2,38.4],[-17.4,38.3],[-17.2,37.2],[-16.7,36.9],[-16.5,38.4],[-16.2,37.9],[-15.7,38.4],[-15.5,37.5],[-14.8,38.1],[-15.2,39.1],[-14.5,38.9],[-14,38.7],[-14,39.9],[-13.6,39.4],[-13.5,37.2],[-13.9,36.7],[-14.6,36.4],[-14.7,35.8],[-15.5,35.1],[-16.8,35.4],[-17.3,35.7],[-17.6,35.2],[-18,35.3],[-19,36.6],[-21.7,37.3],[-23.5,32.8],[-25,33.3],[-29,32.9],[-27.7,30.9],[-27,31.5],[-26.9,29.9],[-26.2,30.5],[-22.9,31.7],[-19.6,34.4],[-16.2,40.5],[-14.9,40.5],[-13.9,40.7],[-12.9,39.8],[-12.8,37],[-13.4,36.2],[-14.2,33.9]];

const series7 = [[14.3,-14.4],[16.9,-14.15],[21.4,-13.3],[14.1,-15.6],[15.35,-15.15],[15.1,-15.7],[14.9,-16.3],[15.65,-15.5],[15.45,-16.3],[15,-17.2],[15.6,-17.5],[16.2,-16.7],[16.7,-15.35],[17.45,-17.4],[18.2,-17.2],[18.75,-17],[19.5,-17],[19.8,-17],[19.15,-18],[19.6,-18.3],[18,-18.1],[18.4,-18.6],[17.9,-19.4],[17,-19.25],[15.2,-18.85],[13.9,-18.5],[20,-14.9],[20.4,-15.15],[20.5,-15.9],[20.4,-16.65],[20.9,-17.2],[21.25,-15.9],[21.4,-15.35],[21.8,-15.25],[22.9,-14.8],[21.7,-16.8],[22.1,-17],[22.85,-17.65],[23.2,-17.95],[19.65,-20.25],[20.5,-21.6],[20.5,-22.4],[19.8,-22.75],[20.85,-23.3],[21.4,-23.3],[21.8,-23.2],[22.1,-23.65],[22.1,-24.5],[21.35,-25.25],[21.5,-26.25],[20.85,-24.95],[20.55,-26.7],[20.1,-25.9],[20.3,-24.2],[19.8,-24.6],[19.45,-24.2],[19.45,-25.5],[19.7,-26.45],[19.5,-27.25],[19.05,-26.45],[19.25,-23.5],[18.95,-22.4],[19.25,-22],[18.85,-20.5],[18.6,-20.35],[18.1,-21.05],[17.75,-20.5],[17.35,-20.35],[17.05,-21.8],[16.95,-22.55],[17.6,-22],[18.3,-22],[18.6,-23.1],[17.85,-23.65],[18.4,-24.8],[18.95,-25.15],[17.75,-25.15],[18,-25.5],[18.6,-26.25],[18.7,-27.35],[17.8,-26.8],[17.8,-27.75],[18.3,-27.75],[19.05,-28.3],[17.35,-28.3],[17.6,-28.65],[18.3,-28.95],[18.5,-29.6],[19.25,-29.3],[19.35,-29.75],[17.8,-30.3],[17.8,-30.85],[17.05,-26.05],[16.9,-25.15],[16.4,-25.15],[16.4,-23.5],[16.05,-22.75],[16.7,-20.5],[15.95,-20.35],[15.95,-21.05],[16.3,-20.9],[15.55,-21.8],[15.25,-20.7],[14.8,-21.1],[14.2,-21.6],[13.85,-21.8],[13.25,-20.7],[13.65,-20.9],[13.4,-22.2],[13.1,-22.55],[12.9,-23.45],[14.15,-22.9],[14.5,-22.4],[15.2,-22.75],[15.35,-23.65],[15.65,-24.2],[16.05,-24.05],[15.25,-24.95],[15.55,-25.5],[15.1,-25.9],[14.65,-24.95],[14.3,-24.2],[13.75,-23.5],[13.5,-24.75],[13.45,-26.05],[13.95,-26.25],[14.4,-26.6],[15,-26.8],[14.95,-27.6],[13.95,-27.55],[14.3,-27.55],[15.85,-27.35],[16.2,-26.25],[15.75,-26.8],[16.3,-27.75],[16.8,-27.75],[15.35,-28.2],[15.75,-28.6],[16.3,-28.95],[16.7,-28.7],[13.25,-28.35],[12.35,-28.2],[11.7,-28.45],[12.2,-26.7],[11.25,-27.6],[11.55,-26.75],[11.3,-25.7],[11.05,-24.8],[12.35,-25.45],[12.75,-25.45],[14.2,-29.75],[13.95,-30.05],[13.65,-30.25],[12.7,-31],[10.1,-21],[10.6,-21.45],[11,-21.8],[11.2,-21.1],[9.35,-22.1],[9.6,-22.65],[11.75,-22.45],[10.8,-22.9],[11.3,-22.9],[12.55,-21.7],[12.4,-22.55],[12.15,-23.3],[11.55,-23.65],[11.85,-24.2],[8.75,-23.5],[9,-24.2],[9.45,-23.85],[10,-24.05],[10.55,-23.85],[10.35,-24.8],[9.75,-24.95],[10.25,-25.7],[9.5,-25.9],[9.2,-24.95],[8.85,-25.9],[8.05,-26.25],[7.4,-26.15],[6.35,-26.15],[5.6,-26.6],[5.9,-26.6],[7.2,-26.45],[6.65,-27],[6.95,-27.35],[6.2,-27.35],[5.7,-27.55],[5.2,-27.9],[7.5,-27.35],[8.05,-27.35],[7.9,-28.3],[6.35,-28.35],[6.65,-28.3],[5.45,-29.15],[8.9,-27],[9.3,-27.35],[9.75,-27.2],[10.25,-27.2],[10.65,-27.75],[8.8,-28.1],[9.2,-28.65],[9.5,-29.2],[9.95,-29],[10.5,-28.65],[11,-29.2],[10.55,-29.95],[11.2,-30.1],[11.6,-30.2],[11.65,-30.7],[9.3,-30.5],[9,-31.15],[9.65,-30.8],[9.95,-31.25],[8.55,-29.6],[7.4,-29.75],[7.1,-30.05],[6.85,-30.05],[7.2,-33.25],[7.05,-24],[-15.5,-16.65],[-15.1,-16.8],[-12.85,-18.1],[-12.65,-18.1],[-13.3,-19],[-13.3,-19.4],[-13.85,-19.8],[-12.25,-19.5],[-14.3,-20.95],[-14.75,-20.95],[-15.5,-21.15],[-15.3,-21.9],[-14.95,-21.55],[-15.15,-22.95],[-14.5,-22.55],[-13.95,-22.55],[-13.65,-22.55],[-8.45,-17.5],[-1.95,-20.8],[-8.9,-22.8],[-12.45,-27.1],[-6.55,-26.6],[-6.15,-26.9],[-4.05,-25.6],[-3.8,-25.6],[-2.9,-25.15],[-9.25,-28.65],[-4.7,-29.2],[1,-29.3],[1.5,-26.6],[2.2,-27.9],[3.15,-26.55],[3.75,-26.45],[4,-27.9],[6.95,-30.05],[7.3,-29.85],[-19,-22.2],[-18.8,-22.9],[-18.5,-24.6],[-18.2,-21.6],[-18,-21.9],[-17.6,-23.5],[-16.65,-24],[-18.85,-23.2],[-18.45,-23.5],[-29.65,-7.75],[-27,-10.95],[-23.8,-9.9],[-24,-10.55],[36.55,5],[25.1,2.15],[36.35,-8.3],[29.85,-11],[33.35,-14.6],[27.3,-17.4],[7.25,3.5],[11.85,-0.5],[16.55,-3.65],[15.7,-6],[12.55,-11.7],[14.15,-12.15]];
const core7 = [[17.1,-23],[17.4,-24.5],[16.9,-24],[17.9,-22.6],[18.5,-21.2],[18.3,-23.8],[18.9,-24],[19.2,-24.8],[19.9,-23.7],[20.5,-23],[19.4,-22.9],[19.2,-26.8],[18.2,-26.5],[18.9,-27.4],[16.6,-26.4],[17.2,-27],[16.9,-23.9],[15.9,-23],[15.8,-23.5],[15.2,-24.4],[14.8,-23.2],[14.3,-23.1],[13.2,-23.7],[13.5,-21.6],[16.3,-21.9],[16.8,-21.2],[19.9,-25.1],[20.7,-25.4],[21,-23.9],[6.9,-26.8],[7.7,-26.8],[8.6,-27.4],[9.7,-28.3],[9.6,-24.4],[9.9,-25.4],[9.5,-28.7],[16.1,-27.1],[17.1,-28],[18.8,-28.2]];

const series8 = [[5.4,21.05],[7.3,21.4],[7.4,21.35],[6.4,19.9],[7.05,18.4],[4.5,17.3],[4.4,16.35],[4.75,16.2],[5.25,16.2],[5.3,15.7],[5.6,15.9],[6.15,16.75],[6.2,15.9],[6.45,15.65],[6.85,15.8],[5.05,14.8],[6.15,14.6],[7.3,17.1],[7.45,14.5],[6.65,14.05],[6.45,13.8],[4.95,13.55],[4.95,12.55],[5.25,12.45],[6.65,12.55],[6.6,12.1],[7.5,13],[3.75,11.2],[3.6,14.4],[4.75,10.65],[5.15,10.55],[6.25,10.9],[7.25,9.9],[7.4,9.6],[7.15,7.7],[7.6,7.85],[8.15,19.2],[8.4,18.85],[8.4,17.65],[8,17.15],[7.85,16.25],[8.5,16.6],[8.65,15.9],[8.15,14.85],[8,12.95],[8.05,11.7],[8.55,11.1],[9,10.9],[8.65,9.8],[10.35,21.3],[10.75,20.6],[10,19.75],[9.65,18.9],[9.7,18.1],[9.4,16.5],[9.85,17.2],[10.35,17.7],[9.3,15.5],[8.85,14.6],[8.65,14.05],[9,13.1],[9.5,12.55],[9.9,15.15],[10.4,15.6],[10.85,16.65],[11.05,17.9],[11.4,20.2],[11.4,19.45],[11.95,21.8],[12,21.05],[12.45,20.35],[12.6,19.3],[12.35,19],[11.85,19.2],[11.75,18.45],[11.3,17.1],[12.15,17.55],[12.6,17.9],[12.05,16.25],[12.45,16.8],[13.1,15.7],[13.2,19.6],[13.55,19.2],[13.4,18.65],[13.55,17.9],[13.2,17.15],[13.6,21.05],[13.8,20.5],[14.5,20.95],[14.75,20.85],[14.4,20.15],[14.95,19.65],[14.25,18.85],[15,18.3],[14.15,17.75],[14.7,17],[15.3,17.2],[14,16.45],[13.55,15.9],[16.1,21.7],[16.95,21.2],[16.65,20.75],[15.7,20.45],[15.55,19.9],[15.95,19.6],[16.75,19.5],[16.55,19.1],[17.85,20.75],[17.5,19.95],[17.45,18.75],[18.4,19.2],[18.85,19.45],[17.9,18.65],[16.05,18.1],[16.05,17.1],[16.75,17.65],[16.6,16.45],[16.8,16.1],[17.35,17.35],[17.8,17],[18.4,17.75],[19,17.35],[19.15,18.45],[19.65,18.65],[20.1,19.6],[20.3,18.65],[19.9,17.75],[20.65,17.55],[21.4,17.8],[21.15,19.6],[21.8,19.2],[22.2,19.15],[22.2,17.8],[21.5,16.75],[20.35,15.6],[19.9,15.7],[19.65,16.45],[18.95,15.9],[18.5,16.8],[18.3,15.7],[19.05,15.05],[18.8,14.9],[18.1,14.8],[17.45,15.7],[17.45,14.95],[15.45,15.7],[15.95,15.7],[15.1,15.9],[14.5,15.35],[16.4,14.7],[15.65,14.4],[15.1,14.4],[13.95,14.6],[13.3,14.6],[12.9,15.5],[12.25,14.6],[11.5,15.35],[11.1,14.6],[10.55,14.6],[9.9,14.4],[10.8,13.65],[11.5,13.65],[12.05,13.65],[12.7,13.65],[13.35,13.65],[14.05,13.65],[14.6,13.3],[15.45,13.5],[16.05,13.3],[16.8,13.65],[17.35,13.65],[17.9,13.65],[18.4,13.4],[16.7,12.75],[17.3,12.55],[18.15,12.55],[16.1,12.2],[16.7,11.35],[15,12.55],[15.45,12.2],[15.25,11.25],[15.1,10.55],[14.7,11.65],[14.25,11.65],[13.65,12.35],[13.2,12.2],[12.6,12.55],[12.05,12.75],[11.4,12.75],[10.5,12.55],[9.9,12.9],[11,11.65],[10.8,11.25],[10.05,11.25],[9.85,10.9],[9.7,9.95],[11.65,11.65],[12.45,11.45],[12.6,10.9],[13.1,10.45],[13.65,10.9],[14.2,10.2],[12.15,10.55],[11.5,10.55],[10.9,10.55],[10.45,10.35],[10.05,9.85],[9.4,9.25],[9.5,8.5],[9.85,8.7],[9.9,7.75],[10.65,8.7],[11,8.25],[11.4,8.5],[12.6,8.4],[11.95,9.5],[12.4,9.5],[12.85,9.7],[13.65,9.1],[13.8,8.85],[14.4,9.25],[14.6,8.85],[14.9,9.4],[16.4,8.25],[17.1,9.35],[18.7,9.55],[-8.95,12.25],[-12,9.65],[-11.85,8.3],[-6.25,6.15],[-6.15,4.55],[-5,4.55],[-17,3],[-8.8,38.3],[-11.9,32.2],[-0.9,27.3],[0.9,23.75],[2.5,23.85],[-24.1,29.25],[-23.85,28.75],[-18.7,-3.75],[-11.7,1.85],[-11.4,1.7],[-11.8,-4.55],[-10,-2.25],[-7.7,-0.6],[-6.2,-3.5],[-6.5,-4.95],[-1.95,-13],[9.35,-18.55],[16.9,-15.9],[23.2,2.65],[38.1,1.35],[30.9,-11.75],[30.6,-12.95],[-5.75,-14.6],[-5.35,-15.05],[-0.95,-22.1],[6.6,-21.9]];
const core8 = [[10.9,14.1],[11.2,14.2],[11.9,14.2],[12.4,14.1],[13,14.2],[13.7,14.1],[14.4,14.1],[15,13.8],[10.6,15.2],[11,15.3],[11.9,15.2],[12.3,15.2],[13,15],[13.8,15.1],[14.4,14.7],[15,15],[15.5,15.1],[10.6,16.1],[11.3,16.1],[11.7,16.6],[12.1,16.9],[12.8,16.4],[13.3,16.2],[14.5,16.4],[15.2,16.4],[13,17],[13.7,17.1],[14.4,17.4],[12.2,18.3],[13,18.6],[10.9,17.1],[10.7,17.9],[10.1,16.6],[11.1,13.1],[11.8,13.1],[12.5,13],[13.2,13],[13.9,13],[14.4,12.6],[13.9,12],[13.4,11.6],[12.9,11.9],[12.1,12.1],[11.5,12.1],[10.9,12.3],[10.2,13.3],[10,11.9],[9.2,14],[15.3,12.9],[15.6,12.7],[15.9,14.1],[16.9,14.2],[17.6,14.3],[18.3,14.1],[19.4,16.9],[19.4,15.4],[20.2,17],[20.6,16.7],[13,10.8],[14.5,10.7],[13.6,10.1],[11.9,10.1],[10.9,9.7]];

const series9 = [[-14.65,-14.35],[-9.05,-14.15],[-12.6,-15.95],[-14.75,-19.25],[-12.15,-19.9],[-12.65,-21.45],[-12.4,-21.7],[-11.35,-18.05],[-11.15,-18.7],[-10.6,-17.65],[-10.8,-19.4],[-10.35,-20.15],[-9.9,-17.75],[-9.45,-16.8],[-9.15,-16.45],[-8.7,-16.15],[-8.95,-17.95],[-9,-18.85],[-9.55,-21.1],[-9.75,-18.7],[-10.1,-18.85],[-7.95,-17],[-7.35,-17],[-7.25,-15.95],[-7.85,-18.3],[-6.6,-17.65],[-6.2,-16.65],[-5.9,-16.15],[-5.3,-15.9],[-6.05,-17.75],[-5.45,-17.75],[-4.6,-16.45],[-4.4,-16.65],[-3.65,-15.5],[-3,-16.25],[-2.4,-15.95],[-3.75,-17],[-3.2,-17.55],[-4.05,-18.1],[-4.9,-17.55],[-2.15,-17],[-1.4,-16.65],[-0.55,-15.7],[-0.25,-16.7],[0.55,-15.55],[1.05,-16.1],[0.75,-16.65],[1.55,-17.1],[2.5,-17],[4.2,-16.95],[2.1,-17.75],[0.6,-17.75],[-0.15,-17.75],[-0.9,-17.95],[-1.6,-17.4],[3.15,-17.5],[2.95,-18.3],[3.9,-18.4],[4.55,-19.2],[5.5,-18.6],[5.15,-18.65],[6.15,-18.6],[6.25,-19.2],[6.75,-19.95],[6.35,-20.35],[5.9,-20.45],[5.2,-19.95],[5,-20.9],[5.3,-21.45],[4.3,-20.9],[4.45,-22.35],[4.1,-22.9],[5,-22.9],[4.8,-23.4],[3.3,-24.15],[3.8,-21.6],[3.25,-22],[2.6,-22.35],[2.3,-23.3],[2,-22.2],[3.5,-19.8],[2.95,-19.95],[2.4,-20.15],[1.9,-19.2],[1.45,-19.05],[0.95,-19.2],[0.3,-19.05],[-0.25,-20.35],[-0.9,-20.35],[-1.6,-19.95],[-2.15,-19.8],[-2.55,-18.7],[-3.3,-19.4],[-4.05,-19.4],[-4.8,-19.4],[-5.75,-19.05],[-6.5,-19.6],[-7.25,-19.4],[-7.85,-20.15],[-8.7,-20.7],[0.95,-20.35],[1.8,-20.7],[1.15,-21.45],[0.6,-21.8],[0.1,-21.45],[-0.2,-22.9],[0.3,-23.1],[0.85,-23.5],[1.05,-23.95],[1.35,-22.55],[-0.8,-23.2],[-1,-21.6],[-1.6,-21.45],[-1.4,-22.55],[-1.9,-23.1],[-2.15,-21.8],[-2.55,-20.7],[-3.3,-20.7],[-4.15,-20.8],[-5,-20.9],[-5.55,-21.6],[-4.8,-21.8],[-4.05,-22],[-3.4,-21.8],[-2.9,-22.75],[-2.35,-22.95],[-4.6,-23],[-4.25,-23.5],[-3.7,-23.3],[-2.9,-23.65],[-2.55,-24.2],[-3.25,-24.95],[-4.45,-24.2],[-5.95,-22.9],[-5.3,-22.45],[-5.55,-24.75],[-5.2,-24.4],[-6.1,-24.95],[-6.7,-25.5],[-6.7,-24.95],[-6.4,-24.2],[-5.95,-23.65],[-6.5,-21.6],[-6.15,-20.7],[-6.9,-20.9],[-7.1,-22.4],[-7.2,-23.85],[-7.65,-23.3],[-7.55,-24.95],[-8.05,-25.9],[-7.5,-26.1],[-8.5,-26.45],[-8.7,-25.35],[-8.6,-24],[-8.05,-24.2],[-9.05,-23.65],[-9.35,-23.1],[-8.4,-22.2],[-8.05,-21.45],[-9.25,-22],[-10.1,-21.6],[-10.3,-22.4],[-10.95,-21.45],[-11.05,-20.35],[-11.55,-20.9],[-11.7,-22],[-11.6,-22.75],[-10.95,-22.2],[-11.25,-23.75],[-10.7,-23.85],[-9.95,-24.05],[-12.3,-23.35],[-12.2,-24.2],[-11.55,-24.4],[-11.8,-25.5],[-12.75,-25.15],[-13.15,-25.8],[-13,-26.7],[-12.05,-26.8],[-11.7,-26.35],[-11.1,-25.9],[-10.7,-24.95],[-10.4,-25.9],[-10.2,-27.2],[-9.85,-27.5],[-9.45,-25.7],[-9.05,-25.9],[-15.2,-25.3],[-15.75,-25.8],[-14.55,-26.15],[-15.6,-26.7],[-15.35,-26.7],[-4.35,-27],[-3.8,-28.15],[-2.65,-28.95],[-0.4,-29.3],[4.75,-26.9],[4.95,-26.95],[8.25,-30.2],[-12.45,-31.6],[22.55,-16.8],[6.2,-34.1],[-37.7,-0.65],[5.4,18.65],[-12.6,9.25],[3.35,10.6],[3.35,9.65],[3.85,6.35],[25.9,-6.95],[26.1,-7.1],[27.35,-1.1]];
const core9 = [[-9.6,-19.6],[-9.9,-20.3],[-9.3,-20.8],[-8.3,-18.7],[-8.3,-19.9],[-7.6,-19],[-7.1,-18.3],[-6.9,-19.6],[-6.1,-19],[-5.5,-18.4],[-5.1,-18.7],[-4.4,-18],[-4.3,-19.9],[-3.6,-18.4],[-2.8,-18.2],[-2.9,-19.3],[-1.9,-18.4],[-1.1,-18.8],[-0.5,-18.5],[-0.5,-19.3],[0.2,-18.3],[0.8,-18.5],[1.5,-18.2],[1.1,-19.9],[1.6,-20],[2.2,-19],[2.7,-19],[3.3,-19],[3.8,-19.4],[2.3,-21],[2.8,-21],[3.2,-20.9],[3.9,-20.5],[4.6,-20.4],[0.5,-20.2],[-0.3,-21],[-0.8,-21],[-1.9,-20.6],[-3.7,-21.1],[-4.7,-20.3],[-5.6,-20.2],[-7.3,-21.1],[-7.7,-21.9],[-7.9,-22.9],[-8.7,-23],[-6.4,-22.8],[-6.6,-23.3],[-9.6,-22.6],[-9.9,-23.3],[-9.7,-21.4],[-10.4,-23.9],[-10.6,-21.7],[-11.3,-22.8],[-11.1,-24.9],[-9.8,-24.9],[-9.1,-24.6],[-8.9,-22.8],[-8.2,-25],[-7.1,-25.5],[-7.1,-24.4],[-11.2,-24.2],[-10.3,-25.3],[-3.1,-22.3],[-3.6,-22.5],[-5,-22.8],[1.9,-21.2],[0.4,-22.4],[2.9,-21.4]];

const allSeries = [
    series0.concat(core0), series1.concat(core1), series2.concat(core2), series3.concat(core3), series4.concat(core4),
    series5.concat(core5), series6.concat(core6), series7.concat(core7), series8.concat(core8), series9.concat(core9)
];

const fontFamily = "'DejaVu Sans', sans-serif";

function minusLabel(v) {
    return String(v).replace('-', '\u2212');
}

// matplotlib style box: top/right spines and the rounded legend
const framePlugin = {
    id: 'frameAndLegend',
    afterDraw(chart) {
        const { ctx, chartArea: a } = chart;
        ctx.save();
        ctx.strokeStyle = '#000';
        ctx.lineWidth = 1.1;
        ctx.strokeRect(a.left, a.top, a.right - a.left, a.bottom - a.top);

        // legend
        const boxX = 1662.5, boxY = 140.5, boxW = 59, boxH = 214;
        ctx.fillStyle = 'rgba(255,255,255,0.8)';
        ctx.strokeStyle = '#d5d5d5';
        ctx.lineWidth = 1.1;
        ctx.beginPath();
        ctx.roundRect(boxX, boxY, boxW, boxH, 3);
        ctx.fill();
        ctx.stroke();

        ctx.font = '13.9px ' + fontFamily;
        ctx.textAlign = 'left';
        ctx.textBaseline = 'middle';
        categories.forEach((label, i) => {
            const y = 153.3 + i * 20.96;
            ctx.fillStyle = colors[i];
            ctx.beginPath();
            ctx.arc(1682.5, y, 5, 0, Math.PI * 2);
            ctx.fill();
            ctx.fillStyle = '#000';
            ctx.fillText(label, 1707.5, y + 0.6);
        });
        ctx.restore();
    }
};

new Chart(document.getElementById('tsneChart').getContext('2d'), {
    type: 'scatter',
    data: {
        datasets: allSeries.map((points, i) => ({
            label: categories[i],
            data: points.map(([x, y]) => ({ x, y })),
            backgroundColor: colors[i],
            borderWidth: 0,
            pointRadius: 5,
            pointHoverRadius: 5,
            order: 9 - i // later classes paint on top
        }))
    },
    options: {
        responsive: false,
        animation: false,
        events: [],
        layout: { padding: { top: 133.4, right: 192, left: 0, bottom: 0 } },
        plugins: { legend: { display: false }, tooltip: { enabled: false } },
        scales: {
            x: {
                type: 'linear',
                min: -42.12,
                max: 42.42,
                afterFit(scale) { scale.height = 122; },
                afterBuildTicks(scale) { scale.ticks = xTicks.map(value => ({ value })); },
                border: { display: true, color: '#000', width: 1.1 },
                grid: { drawOnChartArea: false, drawTicks: true, tickLength: 5, tickColor: '#000', tickWidth: 1.1 },
                ticks: {
                    autoSkip: false, maxRotation: 0, padding: 5, color: '#000',
                    font: { family: fontFamily, size: 13.9 },
                    callback: minusLabel
                }
            },
            y: {
                type: 'linear',
                min: -47.5,
                max: 47.47,
                afterFit(scale) { scale.width = 240; },
                afterBuildTicks(scale) { scale.ticks = yTicks.map(value => ({ value })); },
                border: { display: true, color: '#000', width: 1.1 },
                grid: { drawOnChartArea: false, drawTicks: true, tickLength: 5, tickColor: '#000', tickWidth: 1.1 },
                ticks: {
                    autoSkip: false, padding: 5, labelOffset: 1, color: '#000',
                    font: { family: fontFamily, size: 13.9 },
                    callback: minusLabel
                }
            }
        }
    },
    plugins: [framePlugin]
});
</script>
</body>
</html>
